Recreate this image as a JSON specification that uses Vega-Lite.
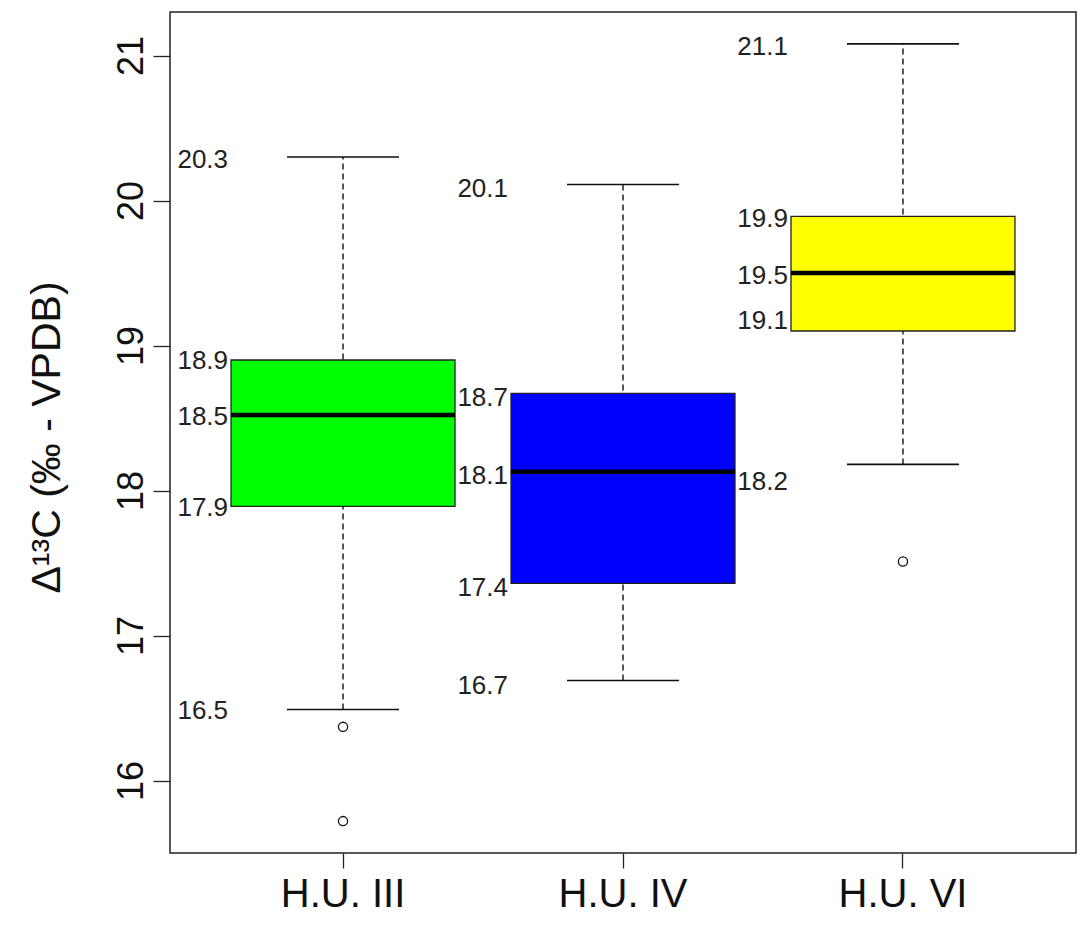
{
  "$schema": "https://vega.github.io/schema/vega-lite/v6.json",
  "width": 906,
  "height": 841,
  "autosize": {"type": "none"},
  "padding": {"left": 170, "top": 12, "right": 4, "bottom": 80},
  "background": "white",
  "config": {
    "font": "Liberation Sans",
    "view": {"stroke": "#222222", "strokeWidth": 1.5},
    "axisY": {
      "domain": false, "grid": false, "tickSize": 17, "tickColor": "#222222", "tickWidth": 1.3,
      "labelAngle": -90, "labelFontSize": 36, "labelColor": "#111111", "labelPadding": 3,
      "labelAlign": "center", "labelBaseline": "bottom",
      "titleFontSize": 41, "titleFontWeight": "normal", "titleColor": "#111111",
      "titleX": -123, "titleY": 425, "titleAngle": -90, "titleAlign": "center", "titleBaseline": "middle"
    },
    "axisX": {
      "domain": false, "grid": false, "tickSize": 15, "tickColor": "#222222", "tickWidth": 1.3,
      "labelAngle": 0, "labelFontSize": 40, "labelColor": "#111111", "labelPadding": 6
    }
  },
  "datasets": {
    "boxes": [
      {"group": "H.U. III", "lower": 16.49, "q1": 17.89, "median": 18.52, "q3": 18.9, "upper": 20.3},
      {"group": "H.U. IV", "lower": 16.69, "q1": 17.36, "median": 18.13, "q3": 18.67, "upper": 20.11},
      {"group": "H.U. VI", "lower": 18.18, "q1": 19.1, "median": 19.5, "q3": 19.89, "upper": 21.08}
    ],
    "outliers": [
      {"group": "H.U. III", "value": 16.37},
      {"group": "H.U. III", "value": 15.72},
      {"group": "H.U. VI", "value": 17.51}
    ],
    "labels": [
      {"group": "H.U. III", "label": "20.3", "at": 20.28},
      {"group": "H.U. III", "label": "18.9", "at": 18.89},
      {"group": "H.U. III", "label": "18.5", "at": 18.51},
      {"group": "H.U. III", "label": "17.9", "at": 17.88},
      {"group": "H.U. III", "label": "16.5", "at": 16.48},
      {"group": "H.U. IV", "label": "20.1", "at": 20.08},
      {"group": "H.U. IV", "label": "18.7", "at": 18.64},
      {"group": "H.U. IV", "label": "18.1", "at": 18.1},
      {"group": "H.U. IV", "label": "17.4", "at": 17.33},
      {"group": "H.U. IV", "label": "16.7", "at": 16.65},
      {"group": "H.U. VI", "label": "21.1", "at": 21.06},
      {"group": "H.U. VI", "label": "19.9", "at": 19.87},
      {"group": "H.U. VI", "label": "19.5", "at": 19.48},
      {"group": "H.U. VI", "label": "19.1", "at": 19.17},
      {"group": "H.U. VI", "label": "18.2", "at": 18.06}
    ]
  },
  "encoding": {
    "x": {
      "field": "group", "type": "nominal", "title": null,
      "scale": {"domain": ["H.U. III", "H.U. IV", "H.U. VI"], "paddingInner": 0.2, "paddingOuter": 0.218}
    }
  },
  "layer": [
    {
      "data": {"name": "boxes"},
      "mark": {"type": "rule", "color": "#111111", "strokeWidth": 1.4, "strokeDash": [6, 4], "opacity": 1},
      "encoding": {
        "y": {"field": "lower", "type": "quantitative", "scale": {"domain": [15.5, 21.3], "nice": false, "zero": false}, "axis": {"values": [16, 17, 18, 19, 20, 21]}, "title": "Δ¹³C (‰ - VPDB)"},
        "y2": {"field": "upper"}
      }
    },
    {
      "data": {"name": "boxes"},
      "mark": {"type": "tick", "color": "#111111", "size": 112, "thickness": 1.6, "orient": "horizontal", "opacity": 1},
      "encoding": {
        "y": {"field": "upper", "type": "quantitative", "scale": {"domain": [15.5, 21.3], "nice": false, "zero": false}, "axis": {"values": [16, 17, 18, 19, 20, 21]}, "title": "Δ¹³C (‰ - VPDB)"}
      }
    },
    {
      "data": {"name": "boxes"},
      "mark": {"type": "tick", "color": "#111111", "size": 112, "thickness": 1.6, "orient": "horizontal", "opacity": 1},
      "encoding": {
        "y": {"field": "lower", "type": "quantitative", "scale": {"domain": [15.5, 21.3], "nice": false, "zero": false}, "axis": {"values": [16, 17, 18, 19, 20, 21]}, "title": "Δ¹³C (‰ - VPDB)"}
      }
    },
    {
      "data": {"name": "boxes"},
      "mark": {"type": "bar", "stroke": "#222222", "strokeWidth": 1.3, "opacity": 1},
      "encoding": {
        "y": {"field": "q1", "type": "quantitative", "scale": {"domain": [15.5, 21.3], "nice": false, "zero": false}, "axis": {"values": [16, 17, 18, 19, 20, 21]}, "title": "Δ¹³C (‰ - VPDB)"},
        "y2": {"field": "q3"},
        "color": {"field": "group", "type": "nominal", "legend": null, "scale": {"domain": ["H.U. III", "H.U. IV", "H.U. VI"], "range": ["#00FF00", "#0000FF", "#FFFF00"]}}
      }
    },
    {
      "data": {"name": "boxes"},
      "mark": {"type": "tick", "color": "#000000", "size": 224, "thickness": 4.5, "orient": "horizontal", "opacity": 1},
      "encoding": {
        "y": {"field": "median", "type": "quantitative", "scale": {"domain": [15.5, 21.3], "nice": false, "zero": false}, "axis": {"values": [16, 17, 18, 19, 20, 21]}, "title": "Δ¹³C (‰ - VPDB)"}
      }
    },
    {
      "data": {"name": "outliers"},
      "mark": {"type": "point", "shape": "circle", "filled": false, "color": "#111111", "strokeWidth": 1.3, "size": 85, "opacity": 1},
      "encoding": {
        "y": {"field": "value", "type": "quantitative", "scale": {"domain": [15.5, 21.3], "nice": false, "zero": false}, "axis": {"values": [16, 17, 18, 19, 20, 21]}, "title": "Δ¹³C (‰ - VPDB)"}
      }
    },
    {
      "data": {"name": "labels"},
      "mark": {"type": "text", "align": "right", "baseline": "middle", "dx": -115, "fontSize": 26, "color": "#222222"},
      "encoding": {
        "y": {"field": "at", "type": "quantitative", "scale": {"domain": [15.5, 21.3], "nice": false, "zero": false}, "axis": {"values": [16, 17, 18, 19, 20, 21]}, "title": "Δ¹³C (‰ - VPDB)"},
        "text": {"field": "label"}
      }
    }
  ]
}
